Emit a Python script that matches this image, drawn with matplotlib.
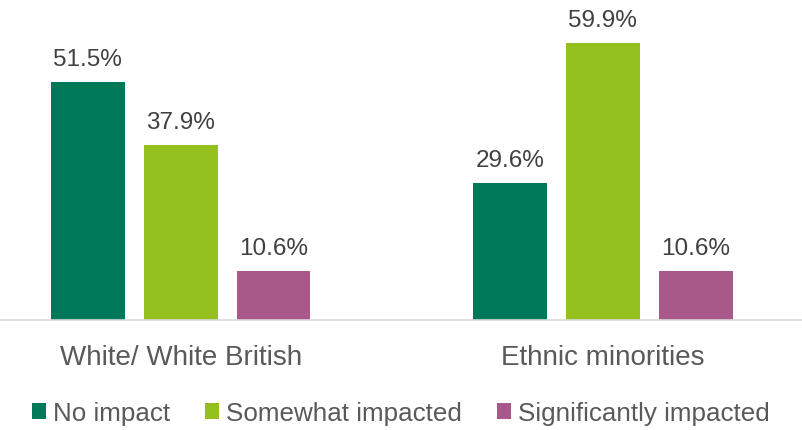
import matplotlib
matplotlib.use('Agg', force=True)

import numpy as np
import matplotlib.pyplot as plt
from matplotlib.patches import Patch

plt.rcParams['font.family'] = ['Liberation Sans', 'DejaVu Sans']

# survey shares by group
groups = ["White/ White British", "Ethnic minorities"]
series = ["No impact", "Somewhat impacted", "Significantly impacted"]
no_impact = [51.5, 29.6]
somewhat = [37.9, 59.9]
significant = [10.6, 10.6]
colours = ["#00785A", "#95C11F", "#A9588A"]

values = [no_impact, somewhat, significant]

fig = plt.figure(figsize=(8.02, 4.31), dpi=100)
ax = fig.add_axes([0, 1 - 321 / 431, 1, 321 / 431])

x = np.arange(len(groups))
width = 0.175
step = 0.22

for i, (vals, col) in enumerate(zip(values, colours)):
    pos = x + (i - 1) * step
    bars = ax.bar(pos, vals, width=width, color=col, zorder=2)
    for b, v in zip(bars, vals):
        ax.annotate(f"{v:.1f}%", (b.get_x() + b.get_width() / 2, v),
                    xytext=(0, 12.2), textcoords='offset points',
                    ha='center', va='baseline', fontsize=17.5, color='#404040')

ax.set_xlim(-0.428, 1.472)
ax.set_ylim(0, 321 / 4.62)

for side in ['top', 'right', 'left']:
    ax.spines[side].set_visible(False)
ax.spines['bottom'].set_color('#D9D9D9')
ax.spines['bottom'].set_linewidth(1.2)
ax.set_yticks([])
ax.set_xticks(x)
ax.set_xticklabels(groups, fontsize=20, color='#595959')
ax.tick_params(axis='x', length=0, pad=17.5)

handles = [Patch(facecolor=c, edgecolor='none') for c in colours]
fig.legend(handles, series, loc='center', bbox_to_anchor=(0.5, 1 - 414 / 431),
           ncol=3, frameon=False, fontsize=18.7, labelcolor='#595959',
           handlelength=0.54, handleheight=0.54, handletextpad=0.27,
           columnspacing=1.35, borderaxespad=0, borderpad=0)

fig.savefig("out.png", dpi=100)
